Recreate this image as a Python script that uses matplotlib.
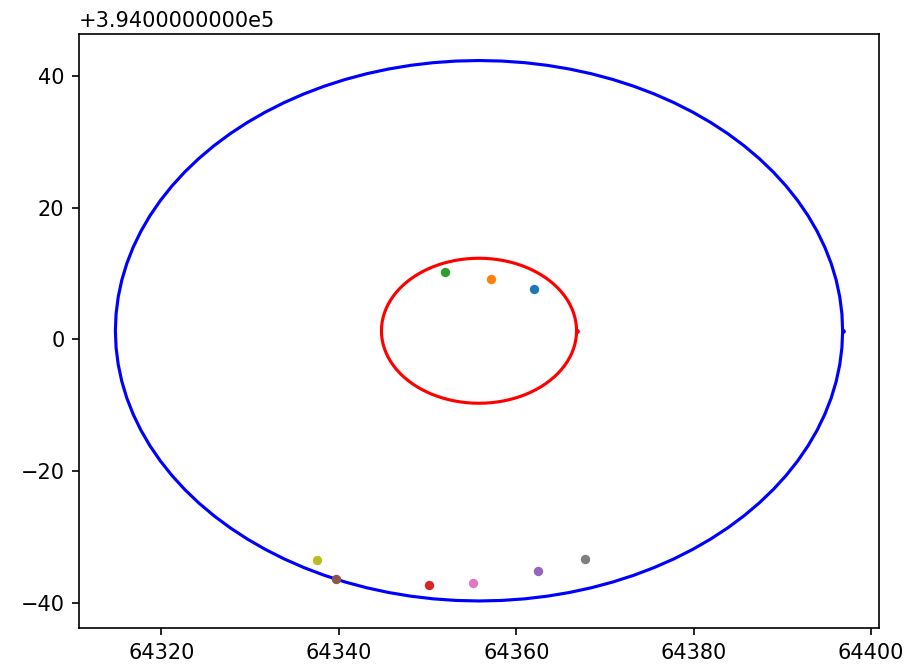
import numpy as np
import matplotlib
matplotlib.use("Agg")
import matplotlib.pyplot as plt
from matplotlib.ticker import ScalarFormatter

# Circle centres / radii (x, y in map units)
center_x = 64355.8
center_y = 394001.3
outer_radius = 41.0
inner_radius = 11.0

# Individual sample points
point_x = [64362.0, 64357.1, 64352.0, 64350.2, 64362.4, 64339.7, 64355.1, 64367.7, 64337.5]
point_y = [394007.7, 394009.1, 394010.2, 393962.7, 393964.8, 393963.6, 393963.1, 393966.6, 393966.5]
point_colors = ["C0", "C1", "C2", "C3", "C4", "C5", "C6", "C7", "C8"]

y_offset = 394000.0
y_offset_label = "+3.9400000000e5"


class OffsetFormatter(ScalarFormatter):
    """Tick labels relative to a fixed offset, with the offset shown above the axis."""

    def __call__(self, x, pos=None):
        v = x - y_offset
        if abs(v) < 1e-9:
            return "0"
        return f"{v:g}".replace("-", "\u2212")

    def get_offset(self):
        return y_offset_label


dpi = 150
fig = plt.figure(figsize=(922 / dpi, 667 / dpi), dpi=dpi)
ax = fig.add_axes([79 / 922, 1 - 628 / 667, 800 / 922, 594.5 / 667])

theta = np.linspace(0, 2 * np.pi, 101)
for r, col in [(outer_radius, "b"), (inner_radius, "r")]:
    ax.plot(center_x + r * np.cos(theta), center_y + r * np.sin(theta), col,
            marker=".", markersize=2.5, markevery=[0])

for x, y, c in zip(point_x, point_y, point_colors):
    ax.plot(x, y, ".", color=c, markersize=7)

ax.yaxis.set_major_formatter(OffsetFormatter())

fig.savefig("out.png", dpi=dpi)
